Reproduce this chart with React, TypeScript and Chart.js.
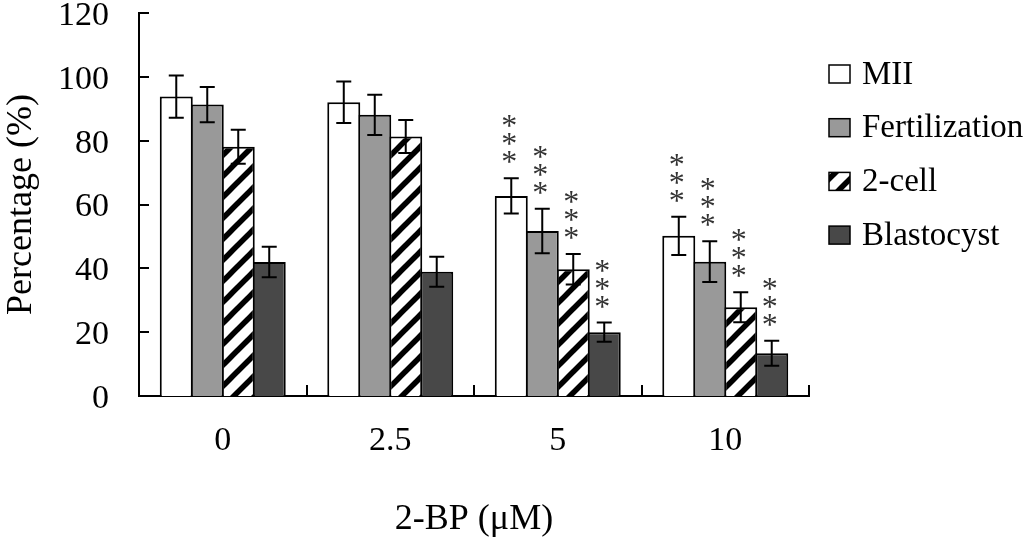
import React, { useEffect, useRef } from 'react';
import { Chart, registerables } from 'chart.js';

Chart.register(...registerables);

const doses = ['0', '2.5', '5', '10'];
const seriesNames = ['MII', 'Fertilization', '2-cell', 'Blastocyst'];

const mii = [93.8, 92.0, 62.7, 50.2];
const miiErr = [6.6, 6.5, 5.5, 6.0];
const fertilization = [91.3, 88.1, 51.7, 42.1];
const fertilizationErr = [5.5, 6.3, 7.0, 6.4];
const twoCell = [78.1, 81.3, 39.7, 27.8];
const twoCellErr = [5.3, 5.2, 4.8, 4.7];
const blastocyst = [42.0, 38.9, 20.0, 13.4];
const blastocystErr = [4.8, 4.7, 3.0, 3.9];

// significance marks per dose, same for every series
const marks = ['', '', '***', '***'];

const errorSets = [miiErr, fertilizationErr, twoCellErr, blastocystErr];

const FONT = "'Liberation Serif', 'Times New Roman', serif";

const makeHatch = () => {
  const size = 21;
  const c = document.createElement('canvas');
  c.width = size;
  c.height = size;
  const g = c.getContext('2d')!;
  g.fillStyle = '#fff';
  g.fillRect(0, 0, size, size);
  g.strokeStyle = '#000';
  g.lineWidth = 5.5;
  for (const off of [-size, 0, size]) {
    g.beginPath();
    g.moveTo(off - 3, size + 3);
    g.lineTo(off + size + 3, -3);
    g.stroke();
  }
  return g.createPattern(c, 'repeat')!;
};

const overlay = {
  id: 'overlay',
  afterDatasetsDraw(chart: any) {
    const { ctx, scales: { y } } = chart;
    ctx.save();
    ctx.strokeStyle = '#000';
    ctx.lineWidth = 2;
    chart.data.datasets.forEach((ds: any, i: number) => {
      const meta = chart.getDatasetMeta(i);
      meta.data.forEach((bar: any, j: number) => {
        const v = ds.data[j];
        const e = errorSets[i][j];
        const top = y.getPixelForValue(v + e);
        const bot = y.getPixelForValue(v - e);
        const x = bar.x;
        ctx.beginPath();
        ctx.moveTo(x, top);
        ctx.lineTo(x, bot);
        ctx.moveTo(x - 7.5, top);
        ctx.lineTo(x + 7.5, top);
        ctx.moveTo(x - 7.5, bot);
        ctx.lineTo(x + 7.5, bot);
        ctx.stroke();

        const m = marks[j];
        if (m) {
          ctx.fillStyle = '#333';
          ctx.font = `32px ${FONT}`;
          ctx.textAlign = 'center';
          ctx.textBaseline = 'alphabetic';
          const tm = ctx.measureText('*');
          const mid = (tm.actualBoundingBoxAscent - tm.actualBoundingBoxDescent) / 2;
          for (let k = 0; k < m.length; k++) {
            const cy = top - 21 - k * 18;
            ctx.fillText('*', x - 2, cy + mid);
          }
        }
      });
    });
    ctx.restore();
  },
  afterDraw(chart: any) {
    const { ctx, chartArea, scales: { x, y } } = chart;
    ctx.save();
    ctx.strokeStyle = '#000';
    ctx.lineWidth = 2;
    // inward ticks on the value axis
    y.ticks.forEach((t: any) => {
      const py = Math.round(y.getPixelForValue(t.value));
      ctx.beginPath();
      ctx.moveTo(chartArea.left, py);
      ctx.lineTo(chartArea.left + 10, py);
      ctx.stroke();
    });
    // inward ticks at category boundaries
    const n = x.ticks.length;
    const w = (chartArea.right - chartArea.left) / n;
    for (let i = 0; i <= n; i++) {
      const px = Math.round(chartArea.left + i * w);
      ctx.beginPath();
      ctx.moveTo(px, chartArea.bottom);
      ctx.lineTo(px, chartArea.bottom - 11);
      ctx.stroke();
    }
    // legend
    const lx = 829;
    const ly = 74;
    const step = 53.7;
    chart.data.datasets.forEach((ds: any, i: number) => {
      const cy = ly + i * step;
      ctx.fillStyle = ds.backgroundColor;
      ctx.fillRect(lx, cy - 9, 21, 18);
      ctx.lineWidth = 1.5;
      ctx.strokeRect(lx, cy - 9, 21, 18);
      ctx.fillStyle = '#000';
      ctx.font = `33px ${FONT}`;
      ctx.textAlign = 'left';
      ctx.textBaseline = 'middle';
      ctx.fillText(seriesNames[i], 862, cy + 1);
    });
    ctx.restore();
  },
};

export default function App() {
  const canvasRef = useRef<HTMLCanvasElement>(null);

  useEffect(() => {
    document.body.style.margin = '0';
    const ctx = canvasRef.current?.getContext('2d');
    if (!ctx) return;
    const hatch = makeHatch();
    const fills = ['#ffffff', '#999999', hatch, '#484848'];
    const values = [mii, fertilization, twoCell, blastocyst];

    const chart = new Chart(ctx, {
      type: 'bar',
      data: {
        labels: doses,
        datasets: values.map((data, i) => ({
          label: seriesNames[i],
          data,
          backgroundColor: fills[i] as any,
          borderColor: '#000',
          borderWidth: 2,
          categoryPercentage: 0.74,
          barPercentage: 1.065,
        })),
      },
      options: {
        responsive: false,
        animation: false,
        layout: { padding: { top: 13, right: 215, bottom: 0, left: 0 } },
        plugins: { legend: { display: false }, tooltip: { enabled: false } },
        scales: {
          x: {
            ticks: { padding: 25, color: '#000', font: { family: FONT, size: 34 } },
            grid: { display: false, drawTicks: false },
            border: { display: true, color: '#000', width: 2 },
            title: {
              display: true,
              text: '2-BP (μM)',
              color: '#000',
              font: { family: FONT, size: 36 },
              padding: { top: 0, bottom: 0 },
            },
            afterFit: (s: any) => {
              s.height = 145;
              s.paddingLeft = 0;
              s.paddingRight = 0;
            },
          },
          y: {
            min: 0,
            max: 120,
            ticks: { stepSize: 20, padding: 30, labelOffset: 3, color: '#000', font: { family: FONT, size: 34 } },
            grid: { display: false, drawTicks: false },
            border: { display: true, color: '#000', width: 2 },
            title: {
              display: true,
              text: 'Percentage (%)',
              color: '#000',
              font: { family: FONT, size: 36 },
              padding: { top: 0, bottom: 0 },
            },
            afterFit: (s: any) => {
              s.width = 139;
              s.paddingTop = 0;
              s.paddingBottom = 0;
            },
          },
        },
      },
      plugins: [overlay],
    });

    return () => chart.destroy();
  }, []);

  return (
    <div style={{ width: 1024, height: 541, background: '#fff' }}>
      <canvas ref={canvasRef} width={1024} height={541} style={{ display: 'block' }} />
    </div>
  );
}
